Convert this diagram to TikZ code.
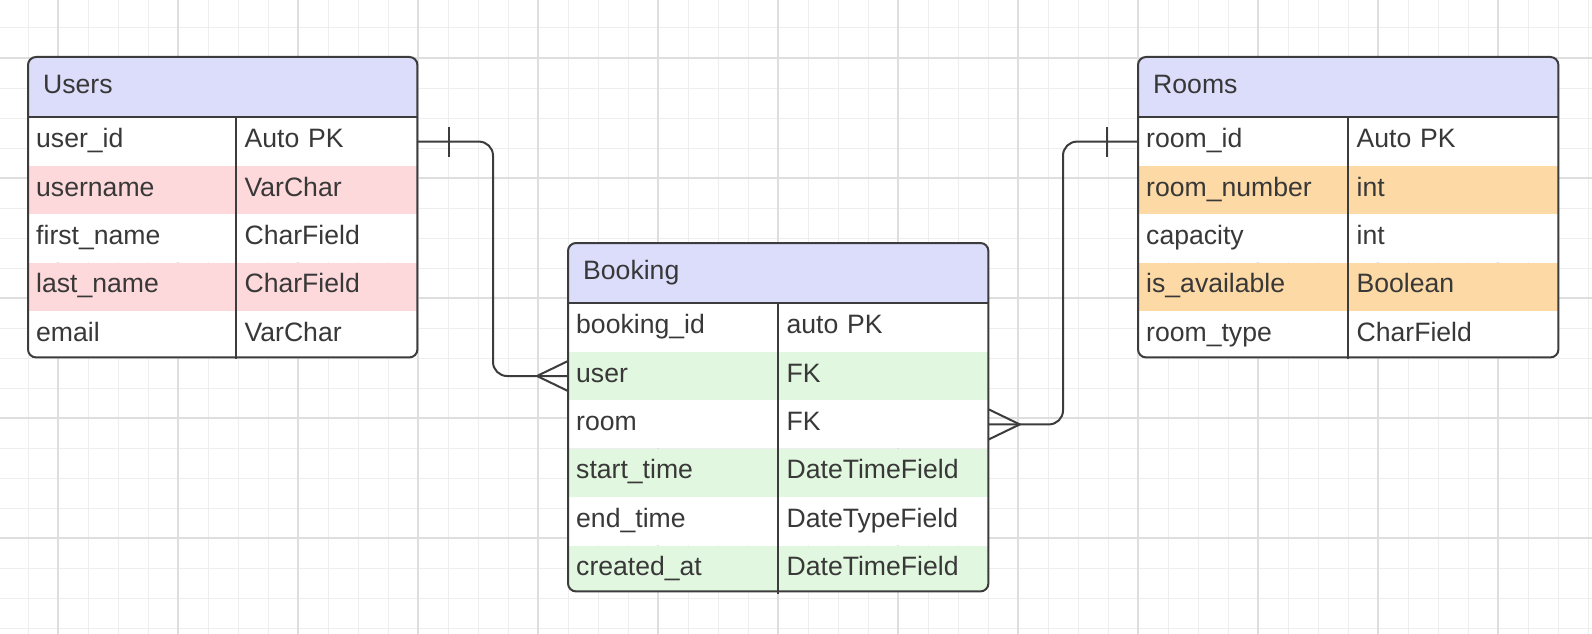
\documentclass[tikz,border=0pt]{standalone}
\usepackage{fontspec}
\setmainfont{Liberation Sans}
\usetikzlibrary{positioning,calc}

\definecolor{gridminor}{HTML}{EEEEEE}
\definecolor{gridmajor}{HTML}{DEDEDE}
\definecolor{hdrfill}{HTML}{DCDCFB}
\definecolor{pinkrow}{HTML}{FED9DC}
\definecolor{orangerow}{HTML}{FDD9A5}
\definecolor{greenrow}{HTML}{E2F7DF}
\definecolor{ink}{HTML}{3C3C3C}
\definecolor{txt}{HTML}{383838}

\tikzset{
	cell/.style={rectangle, inner xsep=8pt, inner ysep=0pt, minimum height=48pt,
		text height=18pt, text depth=6pt, align=left, text=txt,
		font=\fontsize{26.6pt}{32pt}\selectfont},
	key/.style={cell, fill=white, text width=#1},
	head/.style={cell, fill=hdrfill, inner xsep=15pt, minimum height=60pt, text width=#1, anchor=north west},
	box/.style={rectangle, inner sep=0pt, anchor=north west},
	frame/.style={draw=ink, line width=2pt, rounded corners=8pt},
	rule/.style={draw=ink, line width=2pt},
	conn/.style={draw=ink, line width=2pt},
}

\begin{document}
\begin{tikzpicture}[x=1pt, y=-1pt]
	\useasboundingbox (0,0) rectangle (1592,634);
	\fill[white] (0,0) rectangle (1592,634);

	% grid
	\foreach \x in {28,58,...,1588} \draw[gridminor, line width=1pt] (\x,0) -- (\x,634);
	\foreach \y in {28,58,...,628} \draw[gridminor, line width=1pt] (0,\y) -- (1592,\y);
	\foreach \x in {58,178,...,1558} \draw[gridmajor, line width=1.1pt] (\x,0) -- (\x,634);
	\foreach \y in {58,178,...,538} \draw[gridmajor, line width=1.1pt] (0,\y) -- (1592,\y);

	% Users
	\node[box, minimum width=389pt, minimum height=300pt] (UsersBox) at (28,57) {};
	\begin{scope}
		\clip[rounded corners=8pt] (UsersBox.north west) rectangle (UsersBox.south east);
		\node[head=359pt] (Users) at (UsersBox.north west) {Users};
		\node[key=192pt, below right=0pt and 0pt of Users.south west] (UserId) {user\_id};
		\node[key=165pt, right=0pt of UserId] (UserIdT) {Auto PK};
		\node[key=192pt, fill=pinkrow, below=0pt of UserId] (Username) {username};
		\node[key=165pt, fill=pinkrow, right=0pt of Username] (UsernameT) {VarChar};
		\node[key=192pt, below=0pt of Username] (FirstName) {first\_name};
		\node[key=165pt, right=0pt of FirstName] (FirstNameT) {CharField};
		\node[key=192pt, fill=pinkrow, below=0pt of FirstName] (LastName) {last\_name};
		\node[key=165pt, fill=pinkrow, right=0pt of LastName] (LastNameT) {CharField};
		\node[key=192pt, below=0pt of LastName] (Email) {email};
		\node[key=165pt, right=0pt of Email] (EmailT) {VarChar};
	\end{scope}
	\draw[frame] (UsersBox.north west) rectangle (UsersBox.south east);
	\draw[rule] (Users.south west) -- (Users.south east);
	\draw[rule] (UserId.north east) -- (Email.south east);

	% Booking
	\node[box, minimum width=420pt, minimum height=348pt] (BookingBox) at (568,243) {};
	\begin{scope}
		\clip[rounded corners=8pt] (BookingBox.north west) rectangle (BookingBox.south east);
		\node[head=390pt] (Booking) at (BookingBox.north west) {Booking};
		\node[key=194pt, below right=0pt and 0pt of Booking.south west] (BookingId) {booking\_id};
		\node[key=194pt, right=0pt of BookingId] (BookingIdT) {auto PK};
		\node[key=194pt, fill=greenrow, below=0pt of BookingId] (User) {user};
		\node[key=194pt, fill=greenrow, right=0pt of User] (UserT) {FK};
		\node[key=194pt, below=0pt of User] (Room) {room};
		\node[key=194pt, right=0pt of Room] (RoomT) {FK};
		\node[key=194pt, fill=greenrow, below=0pt of Room] (StartTime) {start\_time};
		\node[key=194pt, fill=greenrow, right=0pt of StartTime] (StartTimeT) {DateTimeField};
		\node[key=194pt, below=0pt of StartTime] (EndTime) {end\_time};
		\node[key=194pt, right=0pt of EndTime] (EndTimeT) {DateTypeField};
		\node[key=194pt, fill=greenrow, below=0pt of EndTime] (CreatedAt) {created\_at};
		\node[key=194pt, fill=greenrow, right=0pt of CreatedAt] (CreatedAtT) {DateTimeField};
	\end{scope}
	\draw[frame] (BookingBox.north west) rectangle (BookingBox.south east);
	\draw[rule] (Booking.south west) -- (Booking.south east);
	\draw[rule] (BookingId.north east) -- (CreatedAt.south east);

	% Rooms
	\node[box, minimum width=420pt, minimum height=300pt] (RoomsBox) at (1138,57) {};
	\begin{scope}
		\clip[rounded corners=8pt] (RoomsBox.north west) rectangle (RoomsBox.south east);
		\node[head=390pt] (Rooms) at (RoomsBox.north west) {Rooms};
		\node[key=194pt, below right=0pt and 0pt of Rooms.south west] (RoomId) {room\_id};
		\node[key=194pt, right=0pt of RoomId] (RoomIdT) {Auto PK};
		\node[key=194pt, fill=orangerow, below=0pt of RoomId] (RoomNumber) {room\_number};
		\node[key=194pt, fill=orangerow, right=0pt of RoomNumber] (RoomNumberT) {int};
		\node[key=194pt, below=0pt of RoomNumber] (Capacity) {capacity};
		\node[key=194pt, right=0pt of Capacity] (CapacityT) {int};
		\node[key=194pt, fill=orangerow, below=0pt of Capacity] (IsAvailable) {is\_available};
		\node[key=194pt, fill=orangerow, right=0pt of IsAvailable] (IsAvailableT) {Boolean};
		\node[key=194pt, below=0pt of IsAvailable] (RoomType) {room\_type};
		\node[key=194pt, right=0pt of RoomType] (RoomTypeT) {CharField};
	\end{scope}
	\draw[frame] (RoomsBox.north west) rectangle (RoomsBox.south east);
	\draw[rule] (Rooms.south west) -- (Rooms.south east);
	\draw[rule] (RoomId.north east) -- (RoomType.south east);

	% relations
	\coordinate (UserBend) at (493,0);
	\coordinate (RoomBend) at (1063,0);
	\draw[conn, rounded corners=14pt] (UserIdT.east) -| (UserBend |- User.west) -- (User.west);
	\draw[conn, rounded corners=14pt] (RoomT.east) -| (RoomBend |- RoomId.west) -- (RoomId.west);

	% one side
	\draw[conn] ($(UserIdT.east)+(31,-15)$) -- ++(0,30);
	\draw[conn] ($(RoomId.west)+(-31,-15)$) -- ++(0,30);
	% many side
	\draw[conn] ($(User.west)+(0,-15)$) -- ($(User.west)+(-31,0)$) -- ($(User.west)+(0,15)$);
	\draw[conn] ($(RoomT.east)+(0,-15)$) -- ($(RoomT.east)+(31,0)$) -- ($(RoomT.east)+(0,15)$);
\end{tikzpicture}
\end{document}
